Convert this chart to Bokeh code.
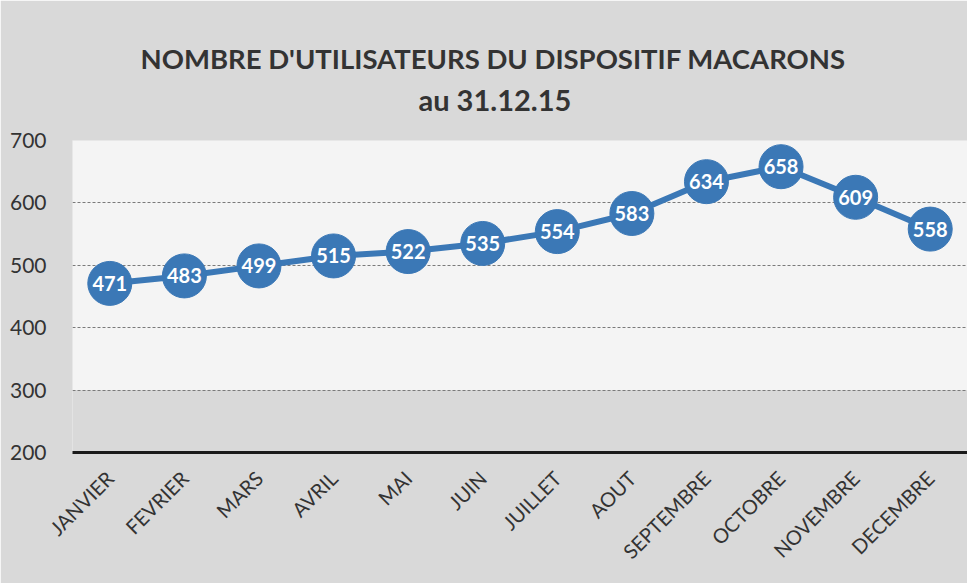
from bokeh.plotting import figure
from bokeh.models import ColumnDataSource, BoxAnnotation, FixedTicker, Title
from bokeh.embed import file_html
from bokeh.resources import INLINE
from bokeh.core.properties import value
import math

months = ["JANVIER", "FEVRIER", "MARS", "AVRIL", "MAI", "JUIN", "JUILLET",
          "AOUT", "SEPTEMBRE", "OCTOBRE", "NOVEMBRE", "DECEMBRE"]
users = [471, 483, 499, 515, 522, 535, 554, 583, 634, 658, 609, 558]
y_ticks = [200, 300, 400, 500, 600, 700]
title_text = "NOMBRE D'UTILISATEURS DU DISPOSITIF MACARONS"
subtitle_text = "au 31.12.15"

FONT = "Lato"
BLUE = "#3B78B6"
GREY_BG = "#d9d9d9"

src = ColumnDataSource(dict(m=months, v=users, t=[str(u) for u in users]))

p = figure(x_range=months, y_range=(200, 700), width=967, height=583,
           output_backend="svg", toolbar_location=None,
           min_border_left=72, min_border_right=0, min_border_top=140,
           min_border_bottom=131)
p.border_fill_color = GREY_BG
p.background_fill_color = GREY_BG
p.outline_line_color = None
p.x_range.range_padding = 0

p.add_layout(BoxAnnotation(bottom=300, top=700, fill_color="#f4f4f4",
                           fill_alpha=1, line_color=None, level="image"))

p.line("m", "v", source=src, line_color=BLUE, line_width=6)
p.scatter("m", "v", source=src, size=44, fill_color=BLUE, line_color=BLUE)
p.text("m", "v", text="t", source=src, text_color="white",
       text_font=value(FONT), text_font_style="bold", text_font_size="20px",
       text_align="center", text_baseline="middle")

p.yaxis.ticker = FixedTicker(ticks=y_ticks)
p.yaxis.axis_line_color = None
p.yaxis.major_tick_line_color = None
p.yaxis.minor_tick_line_color = None
p.yaxis.major_label_text_font = FONT
p.yaxis.major_label_text_font_size = "21px"
p.yaxis.major_label_text_color = "#333333"
p.yaxis.major_label_standoff = 20

p.xaxis.axis_line_color = "#1a1a1a"
p.xaxis.axis_line_width = 3
p.xaxis.major_tick_line_color = None
p.xaxis.major_label_orientation = math.pi / 4
p.xaxis.major_label_text_font = FONT
p.xaxis.major_label_text_font_size = "20px"
p.xaxis.major_label_text_color = "#333333"
p.xaxis.major_label_standoff = 16

p.xgrid.grid_line_color = None
p.ygrid.grid_line_color = "#7a7a7a"
p.ygrid.grid_line_dash = "3 2"
p.ygrid.grid_line_width = 1

p.add_layout(Title(text=subtitle_text, align="left", offset=346,
                   text_font=FONT, text_font_size="29px",
                   text_font_style="bold", text_color="#333333",
                   standoff=48), "above")
p.add_layout(Title(text=title_text, align="left", offset=68,
                   text_font=FONT, text_font_size="27.5px",
                   text_font_style="bold", text_color="#333333",
                   standoff=-38), "above")

open("out.html", "w").write(file_html(p, INLINE))
